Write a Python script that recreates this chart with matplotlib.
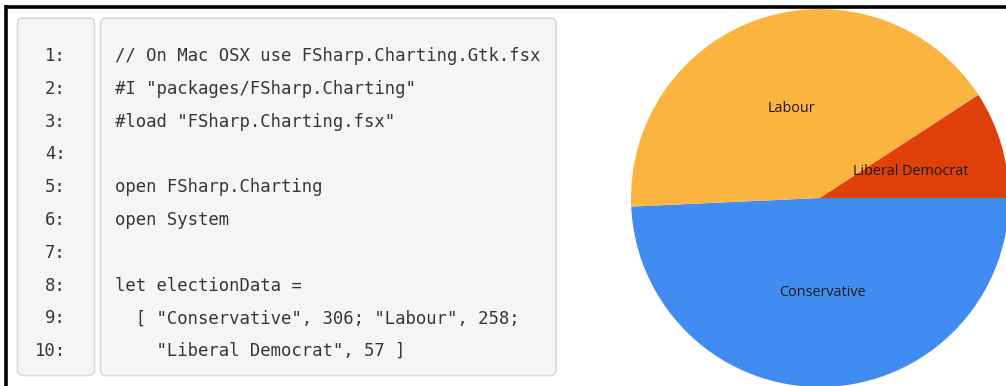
import matplotlib
matplotlib.use("Agg")
import matplotlib.pyplot as plt
from matplotlib.patches import FancyBboxPatch

# election results shown in the pie
parties = ["Conservative", "Labour", "Liberal Democrat"]
seats = [306, 258, 57]
party_colors = ["#418CF0", "#FCB441", "#E0400A"]

# F# snippet listed next to the chart
code_lines = [
    '// On Mac OSX use FSharp.Charting.Gtk.fsx',
    '#I "packages/FSharp.Charting"',
    '#load "FSharp.Charting.fsx"',
    '',
    'open FSharp.Charting',
    'open System',
    '',
    'let electionData =',
    '  [ "Conservative", 306; "Labour", 258;',
    '    "Liberal Democrat", 57 ]',
]
line_numbers = [f"{i}:" for i in range(1, len(code_lines) + 1)]

W, H = 1006, 386
fig = plt.figure(figsize=(W / 100, H / 100), dpi=100)
fig.patch.set_facecolor("white")

# pixel-space axes for the code listing
bg = fig.add_axes([0, 0, 1, 1])
bg.set_xlim(0, W)
bg.set_ylim(H, 0)
bg.axis("off")

# black rule along top and left
bg.plot([5, W], [6.5, 6.5], color="black", lw=2.6, solid_capstyle="butt")
bg.plot([6.5, 6.5], [5, H], color="black", lw=2.6, solid_capstyle="butt")

def code_box(x0, y0, x1, y1):
    box = FancyBboxPatch((x0, y0), x1 - x0, y1 - y0,
                         boxstyle="round,pad=0,rounding_size=6",
                         facecolor="#f5f5f5", edgecolor="#d9d9d9", lw=1.2)
    bg.add_patch(box)

code_box(17.5, 18, 94.5, 375.5)
code_box(100.5, 18, 556, 375.5)

mono = dict(family="DejaVu Sans Mono", fontsize=12.45, color="#363636", va="baseline")
y_first, step = 61, 32.8
for i, (num, line) in enumerate(zip(line_numbers, code_lines)):
    y = y_first + i * step
    bg.text(66, y, num, ha="right", **mono)
    if line:
        bg.text(115, y, line, ha="left", **mono)

# pie chart, square axes in pixels: centre (820, 198), radius 189
cx, cy, r = 820, 198, 189
pie_ax = fig.add_axes([(cx - r) / W, (H - cy - r) / H, 2 * r / W, 2 * r / H])
wedges, texts = pie_ax.pie(seats, labels=parties, colors=party_colors,
                           startangle=0, counterclock=False, radius=1,
                           labeldistance=0.5,
                           wedgeprops=dict(linewidth=0),
                           textprops=dict(family="Open Sans", fontsize=10.4,
                                          color="#1a1a1a"))
for t in texts:
    t.set_ha("center")
    t.set_va("center")
pie_ax.set_xlim(-1, 1)
pie_ax.set_ylim(-1, 1)
pie_ax.set_aspect("auto")
pie_ax.axis("off")

fig.savefig("out.png", dpi=100)
